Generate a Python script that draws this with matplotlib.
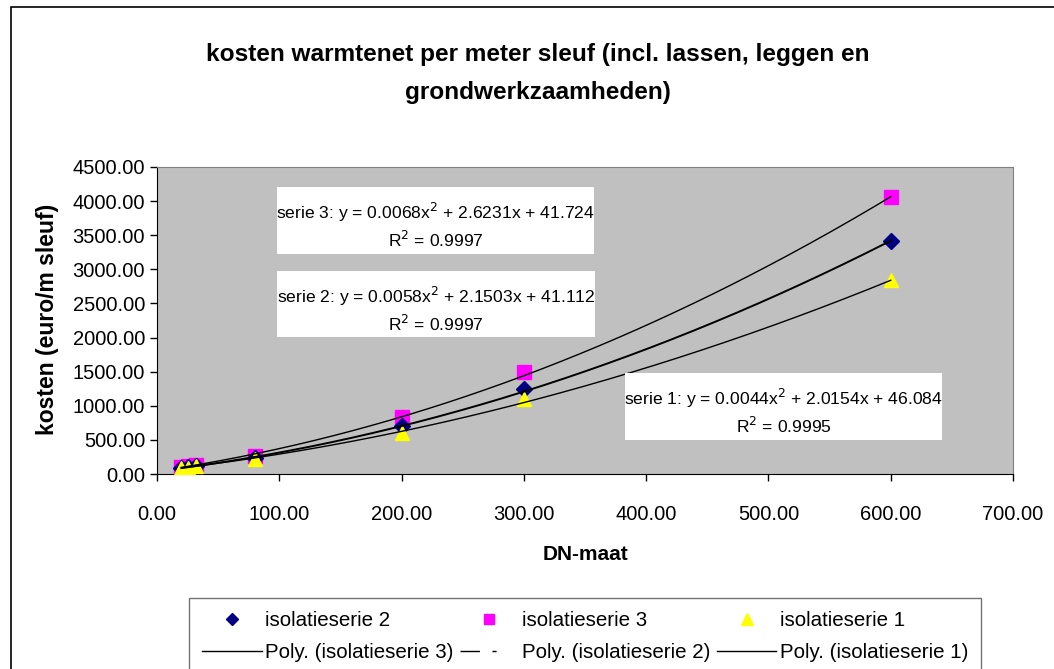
import numpy as np
import matplotlib
matplotlib.use("Agg")
import matplotlib.pyplot as plt
from matplotlib.lines import Line2D
from matplotlib.patches import Rectangle
from matplotlib.ticker import FormatStrFormatter, MultipleLocator

plt.rcParams['font.family'] = ['Liberation Sans', 'DejaVu Sans']

# DN sizes and costs per metre of trench (euro/m) for the three insulation series
dn = [20, 25, 32, 80, 200, 300, 600]
serie1 = [85, 95, 110, 225, 605, 1100, 2840]
serie2 = [92, 102, 118, 235, 705, 1250, 3410]
serie3 = [100, 112, 135, 262, 830, 1490, 4060]

# second-order trendline coefficients (a, b, c) and R^2
coef1 = [0.0044, 2.0154, 46.084]
coef2 = [0.0058, 2.1503, 41.112]
coef3 = [0.0068, 2.6231, 41.724]
r2_1, r2_2, r2_3 = 0.9995, 0.9997, 0.9997

W, H = 1054, 669
fig = plt.figure(figsize=(W / 100, H / 100), dpi=100)
fig.patch.set_facecolor('white')

# outer chart frame
fig.add_artist(Rectangle((11 / W, -0.2), 1.2, 1 - 7 / H + 0.2, transform=fig.transFigure,
                         fill=False, edgecolor='black', lw=1.2, clip_on=False))

ax = fig.add_axes([157 / W, 1 - 474 / H, (1013 - 157) / W, (474 - 167) / H])
ax.set_facecolor('#C0C0C0')
ax.set_xlim(0, 700)
ax.set_ylim(0, 4500)
ax.xaxis.set_major_locator(MultipleLocator(100))
ax.yaxis.set_major_locator(MultipleLocator(500))
ax.xaxis.set_major_formatter(FormatStrFormatter('%.2f'))
ax.yaxis.set_major_formatter(FormatStrFormatter('%.2f'))
ax.tick_params(direction='out', length=5, width=1, labelsize=14.5)
ax.tick_params(axis='y', pad=3.5)
ax.tick_params(axis='x', pad=17)
for s in ['top', 'right']:
    ax.spines[s].set_color('#808080')
for s in ['left', 'bottom']:
    ax.spines[s].set_color('black')

xs = np.linspace(min(dn), max(dn), 300)


def poly(c, x):
    return c[0] * x ** 2 + c[1] * x + c[2]


ax.plot(dn, serie2, linestyle='none', marker='D', ms=8.5, color='#000080', zorder=3)
ax.plot(dn, serie3, linestyle='none', marker='s', ms=9.5, color='#FF00FF', zorder=2)
ax.plot(dn, serie1, linestyle='none', marker='^', ms=10, color='#FFFF00', zorder=4)

ax.plot(xs, poly(coef3, xs), color='black', lw=1.0, zorder=5)
ax.plot(xs, poly(coef2, xs), color='black', lw=1.4, zorder=5)
ax.plot(xs, poly(coef1, xs), color='black', lw=1.0, zorder=5)


def eq_box(x0, y0, x1, y1, name, c, r2):
    fig.add_artist(Rectangle((x0 / W, 1 - y1 / H), (x1 - x0) / W, (y1 - y0) / H,
                             transform=fig.transFigure, facecolor='white',
                             edgecolor='none', zorder=6))
    cx = (x0 + x1) / 2 / W
    fig.text(cx, 1 - (y0 + 25) / H,
             f"{name}: y = {c[0]:.4f}x$^2$ + {c[1]:.4f}x + {c[2]:.3f}",
             ha='center', va='center', fontsize=12.6, zorder=7)
    fig.text(cx, 1 - (y0 + 53) / H, f"R$^2$ = {r2:.4f}",
             ha='center', va='center', fontsize=12.6, zorder=7)


eq_box(277, 187, 594, 254, 'serie 3', coef3, r2_3)
eq_box(277, 271, 595, 337, 'serie 2', coef2, r2_2)
eq_box(625, 373, 942, 440, 'serie 1', coef1, r2_1)

fig.text(538 / W, 1 - 54 / H, 'kosten warmtenet per meter sleuf (incl. lassen, leggen en',
         ha='center', va='center', fontsize=17.6, fontweight='bold')
fig.text(538 / W, 1 - 92 / H, 'grondwerkzaamheden)',
         ha='center', va='center', fontsize=17.6, fontweight='bold')

fig.text(585 / W, 1 - 555 / H, 'DN-maat', ha='center', va='center',
         fontsize=15, fontweight='bold')
fig.text(48 / W, 1 - 319 / H, 'kosten (euro/m sleuf)', ha='center', va='center',
         rotation=90, fontsize=16.5, fontweight='bold')

handles = [
    Line2D([], [], linestyle='none', marker='D', ms=6.5, color='#000080'),
    Line2D([], [], color='black', lw=1.0),
    Line2D([], [], linestyle='none', marker='s', ms=7, color='#FF00FF'),
    Line2D([], [], color='black', lw=1.0, dashes=(14, 9, 3, 40)),
    Line2D([], [], linestyle='none', marker='^', ms=8, color='#FFFF00'),
    Line2D([], [], color='black', lw=1.0),
]
labels = ['isolatieserie 2', 'Poly. (isolatieserie 3)',
          'isolatieserie 3', 'Poly. (isolatieserie 2)',
          'isolatieserie 1', 'Poly. (isolatieserie 1)']
leg = fig.legend(handles, labels, ncol=3, loc='upper left',
                 bbox_to_anchor=(189 / W, 1 - 598 / H),
                 fontsize=14.8, frameon=True, fancybox=False,
                 edgecolor='#505050', handlelength=2.9, handletextpad=0.15,
                 columnspacing=0.3, borderpad=0.65, labelspacing=0.6, borderaxespad=0)
leg.get_frame().set_linewidth(1.0)

fig.savefig('out.png', dpi=100, facecolor='white')
